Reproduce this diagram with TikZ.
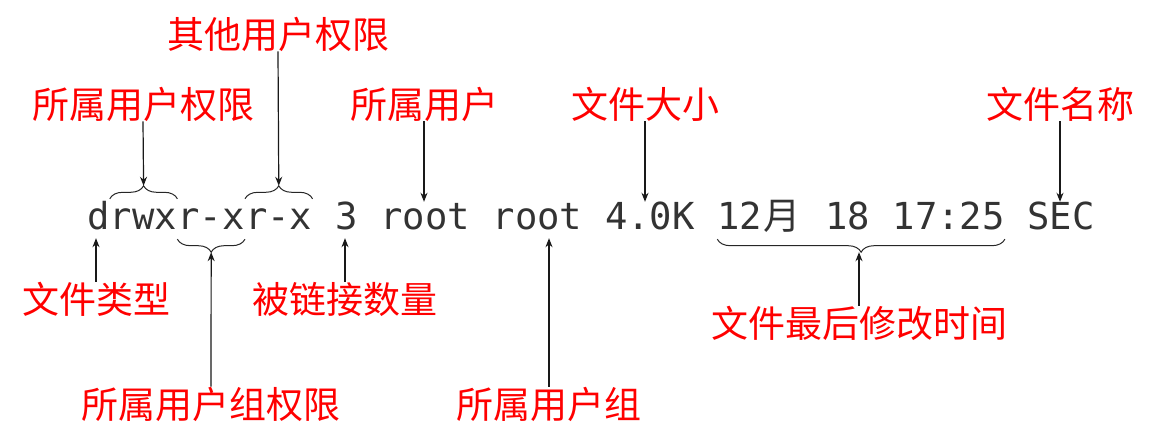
\documentclass[tikz,border=0pt]{standalone}
\usepackage{fontspec}
\usepackage{tikz}
\usetikzlibrary{positioning,arrows.meta,decorations.pathreplacing}

\newfontfamily\monofont{DejaVu Sans Mono}
\newfontfamily\cjk{Noto Sans CJK SC}
\definecolor{lsgray}{HTML}{333333}
\definecolor{lsred}{HTML}{FF0000}

\begin{document}
\begin{tikzpicture}[x=1pt, y=1pt, >={Stealth[length=9pt,width=7pt]},
	mono/.style={font=\monofont\fontsize{37.2}{37.2}\selectfont, text=lsgray,
		inner sep=0pt, text height=28pt, text depth=8pt},
	lbl/.style={font=\cjk\fontsize{37}{37}\selectfont, text=lsred, inner sep=0pt},
	pointer/.style={->, line width=1.2pt, black!90},
	bracetop/.style={decorate, line width=1pt, black!85,
		decoration={brace, amplitude=13pt, raise=3pt}},
	bracebot/.style={decorate, line width=1pt, black!85,
		decoration={brace, amplitude=13pt, raise=1pt}}]

	\def\cw{22.4pt} % one mono cell

	\useasboundingbox (0,0) rectangle (1153,441);

	% the ls line
	\node[mono, anchor=base west] (type) at (87,211) {d};
	\node[mono, right=0pt of type] (uperm) {rwx};
	\node[mono, right=0pt of uperm] (gperm) {r-x};
	\node[mono, right=0pt of gperm] (operm) {r-x};
	\node[mono, right=\cw of operm] (links) {3};
	\node[mono, right=\cw of links] (owner) {root};
	\node[mono, right=\cw of owner] (grp) {root};
	\node[mono, right=\cw of grp] (size) {4.0K};
	\node[mono, right=\cw of size] (month) {12\makebox[40pt]{\cjk 月}};
	\node[mono, right=\cw of month] (day) {18};
	\node[mono, right=\cw of day] (time) {17:25};
	\node[mono, right=\cw of time] (name) {SEC};

	% labels above
	\node[lbl] (lothers) at (278,407) {其他用户权限};
	\node[lbl] (luperm) at (143,337) {所属用户权限};
	\node[lbl] (lowner) at (424,337) {所属用户};
	\node[lbl] (lsize) at (645,337) {文件大小};
	\node[lbl] (lname) at (1060,337) {文件名称};

	% labels below
	\node[lbl] (ltype) at (96,142) {文件类型};
	\node[lbl] (llinks) at (345,142) {被链接数量};
	\node[lbl] (ltime) at (859,118) {文件最后修改时间};
	\node[lbl] (lgperm) at (211,37) {所属用户组权限};
	\node[lbl] (lgrp) at (549,37) {所属用户组};

	% braces
	\draw[bracetop] (uperm.north west) -- (uperm.north east);
	\draw[bracetop] (operm.north west) -- (operm.north east);
	\draw[bracebot] (gperm.south east) -- (gperm.south west);
	\draw[bracebot] (time.south east) -- (month.south west);

	\coordinate (utip) at ([yshift=16pt]uperm.north);
	\coordinate (otip) at ([yshift=16pt]operm.north);
	\coordinate (gtip) at ([yshift=-14pt]gperm.south);
	\coordinate (ttip) at ([yshift=-14pt]month.south west -| ltime.north);

	% arrows down
	\draw[pointer] (lothers.south) -- (otip);
	\draw[pointer] (luperm.south) -- (utip);
	\draw[pointer] (lowner.south) -- (lowner.south |- owner.north);
	\draw[pointer] (lsize.south) -- (lsize.south |- size.north);
	\draw[pointer] (lname.south) -- (lname.south |- name.north);

	% arrows up
	\draw[pointer] (ltype.north) -- (ltype.north |- type.south);
	\draw[pointer] (llinks.north) -- (llinks.north |- links.south);
	\draw[pointer] (lgperm.north) -- (gtip);
	\draw[pointer] (lgrp.north) -- (lgrp.north |- grp.south);
	\draw[pointer] (ltime.north) -- (ttip);

\end{tikzpicture}
\end{document}
